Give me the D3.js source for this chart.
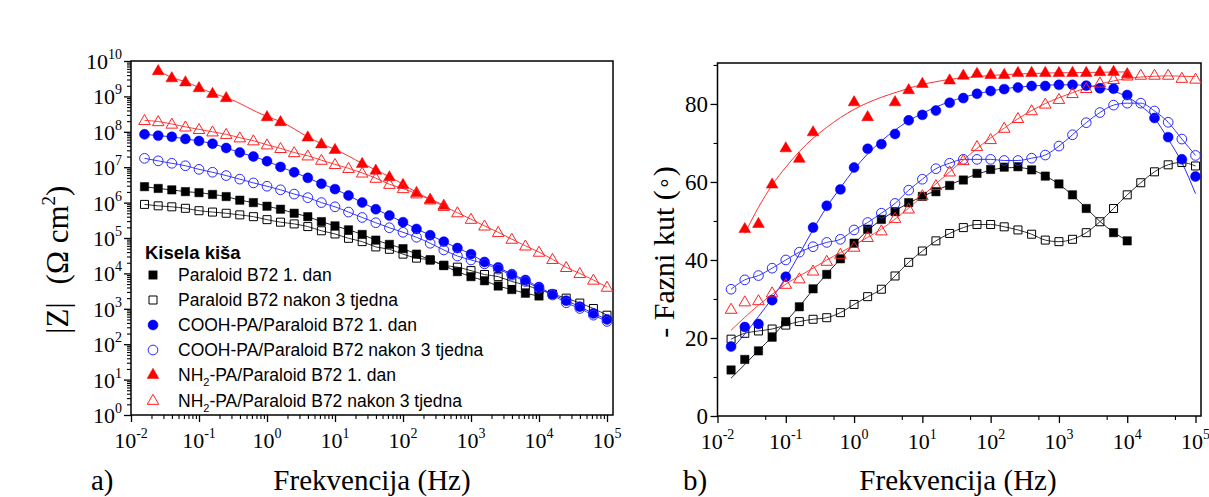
<!DOCTYPE html>
<html><head><meta charset="utf-8">
<script src="https://cdn.jsdelivr.net/npm/d3@7"></script>
<style>body{margin:0;background:#fff} svg{display:block}</style>
</head><body>
<svg id="c" width="1209" height="497"></svg>
<script>
// ---------------- DATA ----------------
const freq = [0.0158,0.0251,0.0398,0.0631,0.1,0.158,0.251,0.398,0.631,1,1.58,2.51,3.98,6.31,10,15.8,25.1,39.8,63.1,100,158,251,398,631,1000,1580,2510,3980,6310,10000,15800,25100,39800,63100,100000];

const seriesNames = ["Paraloid B72 1. dan","Paraloid B72 nakon 3 tjedna","COOH-PA/Paraloid B72 1. dan","COOH-PA/Paraloid B72 nakon 3 tjedna","NH2-PA/Paraloid B72 1. dan","NH2-PA/Paraloid B72 nakon 3 tjedna"];
const legendTitle = "Kisela kiša";

// |Z| (Ohm cm2)
const zB1 = [2.82e6,2.51e6,2.29e6,2.04e6,1.91e6,1.70e6,1.48e6,1.17e6,1.0e6,7.9e5,6.5e5,5.0e5,4.0e5,2.9e5,2.2e5,1.7e5,1.26e5,8.7e4,6.6e4,5.0e4,3.5e4,2.4e4,1.66e4,1.12e4,8.1e3,6.2e3,4.4e3,3.5e3,2.75e3,2.3e3,null,null,null,null,null];
const zB3 = [8.9e5,8.1e5,7.6e5,6.9e5,5.9e5,5.4e5,5.0e5,4.5e5,4.0e5,3.3e5,2.8e5,2.5e5,2.1e5,1.6e5,1.3e5,9.8e4,7.9e4,5.6e4,4.8e4,3.5e4,2.7e4,2.4e4,1.7e4,1.5e4,1.2e4,9.3e3,8.1e3,5.9e3,4.7e3,3.5e3,2.6e3,2.0e3,1.45e3,1.02e3,6.6e2];
const zC1 = [8.5e7,7.8e7,7.2e7,6.3e7,5.5e7,4.6e7,3.5e7,2.6e7,2.0e7,1.48e7,1.02e7,7.2e6,5.0e6,3.4e6,2.4e6,1.58e6,1.0e6,6.5e5,4.3e5,2.8e5,1.8e5,1.2e5,7.9e4,5.2e4,3.5e4,2.1e4,1.48e4,9.5e3,6.5e3,4.1e3,2.6e3,1.7e3,1.15e3,7.4e2,5.0e2];
const zC3 = [1.78e7,1.51e7,1.29e7,1.10e7,8.7e6,7.2e6,5.8e6,4.6e6,3.6e6,2.9e6,2.3e6,1.74e6,1.38e6,1.0e6,7.6e5,5.4e5,3.8e5,2.7e5,1.95e5,1.45e5,1.05e5,7.1e4,4.6e4,3.1e4,2.4e4,1.86e4,1.32e4,8.9e3,5.9e3,3.8e3,2.45e3,1.48e3,1.02e3,6.6e2,4.4e2];
const zN1 = [null,5.4e9,3.4e9,2.6e9,1.78e9,1.23e9,9.3e8,null,null,2.7e8,1.95e8,null,7.2e7,4.6e7,3.2e7,null,1.29e7,8.3e6,5.4e6,3.3e6,1.95e6,1.26e6,8.5e5,null,null,null,null,null,null,null,null,null,null,null,null];
const zN3 = [2.1e8,1.95e8,1.66e8,1.38e8,1.17e8,1.0e8,8.5e7,6.8e7,5.6e7,4.3e7,3.4e7,2.6e7,2.1e7,1.58e7,1.2e7,9.3e6,6.9e6,4.9e6,3.3e6,2.5e6,1.78e6,1.2e6,7.9e5,5.2e5,3.4e5,2.2e5,1.45e5,9.3e4,6.0e4,4.0e4,2.5e4,1.48e4,1.0e4,6.5e3,4.1e3];

// - phase angle (deg), measured points
const pB1 = [11.8,14.5,16.7,20.2,24.2,28.0,32.6,36.3,40.3,44.3,47.9,50.4,52.4,54.7,56.3,57.5,59.1,60.5,62.2,63.2,63.8,63.9,63.1,61.5,59.5,56.7,53.2,null,47.0,44.9,null,null,null,null,null];
const pB3 = [19.7,21.2,21.8,22.3,23.3,24.2,24.8,25.2,26.5,28.6,30.6,32.5,35.9,39.4,42.3,44.9,46.8,48.3,49.1,49.1,48.5,47.7,46.6,45.1,44.7,45.3,47.0,49.8,53.2,56.7,59.8,62.6,64.4,65.0,64.1];
const pC1 = [17.8,22.8,23.6,29.7,35.7,null,48.3,53.9,58.1,63.7,68.5,69.7,72.3,75.8,77.2,78.3,80.3,81.5,82.6,83.3,83.8,84.2,84.6,84.6,84.9,84.9,84.7,84.0,83.9,82.3,null,76.4,71.5,65.8,61.4];
const pC3 = [32.5,34.9,36.0,37.9,40.0,42.0,43.4,44.5,45.3,47.7,49.6,52.0,54.5,57.9,60.7,63.4,64.8,65.8,65.8,65.8,65.5,65.5,66.1,66.9,69.2,72.1,75.2,77.8,79.7,80.2,80.2,78.2,75.3,71.0,66.8];
const pN1 = [null,48.1,49.4,59.5,68.8,66.1,72.9,null,null,80.6,76.8,null,80.6,83.7,85.3,null,86.2,87.4,87.9,87.6,87.6,88.1,88.1,88.1,88.1,88.1,88.1,88.3,88.4,87.8,null,null,null,null,null];
const pN3 = [27.4,29.3,29.6,31.6,33.8,35.2,37.2,39.7,41.5,43.3,45.8,47.5,50.7,53.1,56.5,59.1,62.6,65.5,69.1,70.9,73.8,76.3,78.3,80.0,81.2,82.7,84.0,85.4,86.3,87.2,87.4,87.4,87.4,86.6,86.4];

// - phase angle, fitted curves
const fB1 = [9.7,13.2,16.8,20.3,24.2,28.1,32.4,36.4,40.3,44.1,47.6,50.3,52.6,54.6,56.3,57.8,59.3,60.7,62.0,63.0,63.6,63.7,63.1,61.6,59.4,56.6,53.3,49.9,47.1,45.0,null,null,null,null,null];
const fB3 = pB3;
const fC1 = [17.0,21.0,25.5,30.2,35.5,41.5,47.8,53.6,58.5,63.2,67.2,70.5,73.3,75.7,77.6,79.2,80.6,81.7,82.6,83.3,83.9,84.3,84.6,84.8,84.9,84.9,84.7,84.2,83.3,81.8,79.5,76.3,71.0,65.0,57.0];
const fC3 = pC3;
const fN1 = [null,46.8,53.5,59.2,63.8,67.8,71.2,74.0,76.5,78.6,80.3,81.7,82.9,84.0,85.0,85.7,86.3,86.7,87.0,87.3,87.5,87.7,87.8,87.9,88.0,88.0,88.1,88.1,88.2,88.2,null,null,null,null,null];
const fN3 = [22.0,25.3,28.4,31.2,33.8,35.9,37.9,40.0,41.9,43.8,45.8,47.9,50.5,53.3,56.4,59.5,62.6,65.6,68.6,71.3,73.8,76.2,78.3,80.1,81.6,82.9,84.1,85.1,85.9,86.5,86.9,87.1,87.2,87.1,87.0];

const xTickExp = [-2,-1,0,1,2,3,4,5];
const yTickExpL = [0,1,2,3,4,5,6,7,8,9,10];
const yTicksR = [0,20,40,60,80];
const yMinorR = [10,30,50,70,90];

// ---------------- STYLE ----------------
const styles = [
  {shape:d3.symbolSquare, size:70, fill:true,  color:"#000", line:"#222"},
  {shape:d3.symbolSquare, size:64, fill:false, color:"#000", line:"#333"},
  {shape:d3.symbolCircle, size:78, fill:true,  color:"#0000ff", line:"#2a2aff"},
  {shape:d3.symbolCircle, size:74, fill:false, color:"#2a2aff", line:"#3a3aff"},
  {shape:d3.symbolTriangle, size:60, fill:true, color:"#ff0000", line:"#ff3030"},
  {shape:d3.symbolTriangle, size:58, fill:false, color:"#ff2020", line:"#ff4040"}
];
const zSeries = [zB1,zB3,zC1,zC3,zN1,zN3];
const pSeries = [pB1,pB3,pC1,pC3,pN1,pN3];
const fSeries = [fB1,fB3,fC1,fC3,fN1,fN3];

const serif = "'Liberation Serif','Times New Roman',serif";
const sans = "'Liberation Sans',Arial,sans-serif";
const svg = d3.select("#c");

function pairs(arr){ return freq.map((f,i)=>({f, v:arr[i]})).filter(d=>d.v!=null); }
function logTicks(e0,e1,mults){ const t=[]; for(let e=e0;e<e1;e++) for(const m of mults) t.push(m*Math.pow(10,e)); return t; }

function expLabel(g, x, y, exp, anchor){
  const t = g.append("text").attr("x",x).attr("y",y).attr("text-anchor",anchor)
    .attr("font-family",serif).attr("font-size",22).attr("fill","#000");
  t.append("tspan").text("10");
  t.append("tspan").attr("font-size",14).attr("dy",-10).text(String(exp));
}

function drawPanel(cfg){
  const g = svg.append("g");
  const x = cfg.x, y = cfg.y;
  g.append("g").attr("transform",`translate(0,${cfg.yb})`)
    .call(d3.axisBottom(x).tickValues(xTickExp.map(e=>Math.pow(10,e))).tickSize(7).tickFormat(""))
    .call(s=>{s.select(".domain").remove(); s.selectAll("line").attr("stroke","#000").attr("stroke-width",1.3);});
  g.append("g").attr("transform",`translate(0,${cfg.yb})`)
    .call(d3.axisBottom(x).tickValues(cfg.xMinor).tickSize(4).tickFormat(""))
    .call(s=>{s.select(".domain").remove(); s.selectAll("line").attr("stroke","#000").attr("stroke-width",1.1);});
  g.append("g").attr("transform",`translate(${cfg.xl},0)`)
    .call(d3.axisLeft(y).tickValues(cfg.yMajor).tickSize(7).tickFormat(""))
    .call(s=>{s.select(".domain").remove(); s.selectAll("line").attr("stroke","#000").attr("stroke-width",1.3);});
  g.append("g").attr("transform",`translate(${cfg.xl},0)`)
    .call(d3.axisLeft(y).tickValues(cfg.yMinor).tickSize(4).tickFormat(""))
    .call(s=>{s.select(".domain").remove(); s.selectAll("line").attr("stroke","#000").attr("stroke-width",1.1);});
  g.append("rect").attr("x",cfg.xl).attr("y",cfg.yt).attr("width",cfg.xr-cfg.xl).attr("height",cfg.yb-cfg.yt)
    .attr("fill","none").attr("stroke","#000").attr("stroke-width",1.5);
  xTickExp.forEach(e=> expLabel(g, x(Math.pow(10,e)), cfg.yb+33, e, "middle"));
  const line = d3.line().x(d=>x(d.f)).y(d=>y(d.v)).curve(d3.curveMonotoneX);
  cfg.lines.forEach((arr,i)=>{
    g.append("path").datum(pairs(arr)).attr("d",line).attr("fill","none")
      .attr("stroke",styles[i].line).attr("stroke-width",1);
  });
  cfg.points.forEach((arr,i)=>{
    const st = styles[i];
    const sym = d3.symbol().type(st.shape).size(st.size);
    g.selectAll(null).data(pairs(arr)).join("path")
      .attr("transform",d=>`translate(${x(d.f)},${y(d.v) + (st.shape===d3.symbolTriangle?0.8:0)})`)
      .attr("d",sym)
      .attr("fill",st.fill?st.color:"none")
      .attr("stroke",st.color).attr("stroke-width",st.fill?0.5:1);
  });
  return g;
}

// ---------------- LEFT PANEL ----------------
const xL = d3.scaleLog().domain([0.01,1e5]).range([131,607]);
const yL = d3.scaleLog().domain([1,1e10]).range([415,61]);
const gL = drawPanel({x:xL, y:yL, xl:131, xr:613, yt:61, yb:415,
  xMinor: logTicks(-2,5,[2,3,4,5,6,7,8,9]),
  yMajor: yTickExpL.map(e=>Math.pow(10,e)),
  yMinor: logTicks(0,10,[2,3,4,5,6,7,8,9]),
  lines: zSeries, points: zSeries});
yTickExpL.forEach(e=> expLabel(gL, 122, yL(Math.pow(10,e))+8, e, "end"));

gL.append("text").attr("x",145).attr("y",259).attr("font-family",sans).attr("font-weight","bold")
  .attr("font-size",18.5).text(legendTitle);
const legBase = [281,306,331,356,381,407];
seriesNames.forEach((name,i)=>{
  const st = styles[i];
  gL.append("path").attr("transform",`translate(153,${legBase[i]-6})`)
    .attr("d",d3.symbol().type(st.shape).size(st.size))
    .attr("fill",st.fill?st.color:"none").attr("stroke",st.color).attr("stroke-width",st.fill?0.5:1);
  const t = gL.append("text").attr("x",178).attr("y",legBase[i]).attr("font-family",sans).attr("font-size",17.5).attr("fill","#000");
  if (name.startsWith("NH2")) {
    t.append("tspan").text("NH");
    t.append("tspan").attr("font-size",11).attr("dy",5).text("2");
    t.append("tspan").attr("dy",-5).text(name.slice(3));
  } else t.text(name);
});

svg.append("text").attr("transform","translate(68,318) rotate(-90)").attr("text-anchor","middle")
  .attr("font-family",serif).attr("font-size",31).text("|Z|");
const tl = svg.append("text").attr("transform","translate(68,235) rotate(-90)").attr("text-anchor","middle")
  .attr("font-family",serif).attr("font-size",31);
tl.append("tspan").text("(Ω cm");
tl.append("tspan").attr("font-size",19).attr("dy",-13).text("2");
tl.append("tspan").attr("dy",13).text(")");
svg.append("text").attr("x",372).attr("y",490).attr("text-anchor","middle").attr("font-family",serif).attr("font-size",29).text("Frekvencija (Hz)");
svg.append("text").attr("x",91).attr("y",490).attr("font-family",serif).attr("font-size",29).text("a)");

// ---------------- RIGHT PANEL ----------------
const xR = d3.scaleLog().domain([0.01,1e5]).range([717.5,1195.5]);
const yR = d3.scaleLinear().domain([0,90.5]).range([416,63]);
const gR = drawPanel({x:xR, y:yR, xl:717.5, xr:1201, yt:63, yb:416,
  xMinor: logTicks(-2,5,[5]),
  yMajor: yTicksR, yMinor: yMinorR,
  lines: fSeries, points: pSeries});
yTicksR.forEach(v=> gR.append("text").attr("x",708).attr("y",yR(v)+8).attr("text-anchor","end")
  .attr("font-family",serif).attr("font-size",23).text(v));
const tr = svg.append("text").attr("transform","translate(674,252) rotate(-90)").attr("text-anchor","middle")
  .attr("font-family",serif).attr("font-size",30);
tr.append("tspan").text("- Fazni kut (");
tr.append("tspan").attr("font-size",22).attr("dy",-3).text("∘");
tr.append("tspan").attr("dy",3).text(")");
svg.append("text").attr("x",958).attr("y",490).attr("text-anchor","middle").attr("font-family",serif).attr("font-size",29).text("Frekvencija (Hz)");
svg.append("text").attr("x",683).attr("y",490).attr("font-family",serif).attr("font-size",29).text("b)");
</script>
</body></html>
